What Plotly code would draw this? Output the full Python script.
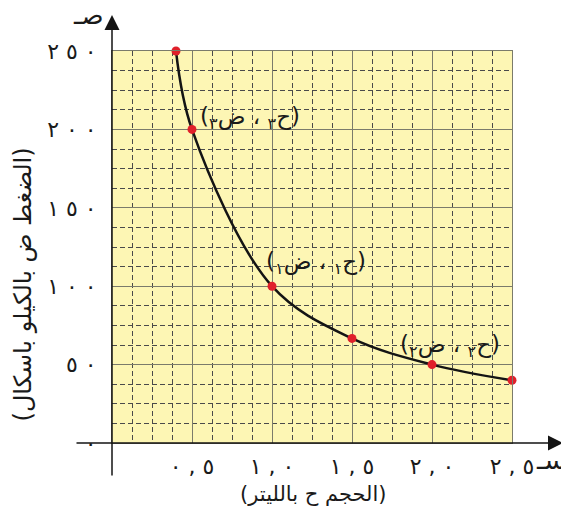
import plotly.graph_objects as go

# Boyle's law data: volume (L) and pressure (kPa)
volume = [0.4, 0.5, 1.0, 1.5, 2.0, 2.5]
pressure = [250, 200, 100, 66.7, 50, 40]

x_tick_vals = [0, 0.5, 1.0, 1.5, 2.0, 2.5]
x_tick_text = ['', '٠,٥', '١,٠', '١,٥', '٢,٠', '٢,٥']
y_tick_vals = [0, 50, 100, 150, 200, 250]
y_tick_text = ['٠', '٥٠', '١٠٠', '١٥٠', '٢٠٠', '٢٥٠']

# labels of the marked points: (subscript, x, y)
point_labels = [
    ('٣', 0.54, 207),
    ('١', 0.95, 115),
    ('٢', 1.79, 62),
]

FONT = 'DejaVu Sans'
YELLOW = '#fdf6b4'
MAJOR = '#7b7b6b'
MINOR = '#4a4a4a'

# the page body has an 8px margin, so the figure is shifted by that much
PAGE = 8


def spaced(s):
    # spread the digits a little, keep them in left-to-right order
    if not s:
        return s
    return '\u202d' + ' '.join(s) + '\u202c'


def pair_label(n):
    # written in visual order (left to right) and forced LTR
    return ('\u202d(<sub>' + n + '</sub>ض ، <sub>' + n + '</sub>ح)\u202c')


fig = go.Figure()

fig.add_trace(go.Scatter(
    x=volume, y=pressure, mode='lines',
    line=dict(color='#141414', width=2.5, shape='spline', smoothing=1.0),
    cliponaxis=False, hoverinfo='skip', showlegend=False
))
fig.add_trace(go.Scatter(
    x=volume, y=pressure, mode='markers',
    marker=dict(color='#e0202a', size=9),
    cliponaxis=False, showlegend=False
))

axis_common = dict(
    showline=True, mirror=True, linecolor=MAJOR, linewidth=1,
    showgrid=True, gridcolor=MAJOR, gridwidth=1.2,
    zeroline=False, ticks='', tickmode='array',
    tickfont=dict(family=FONT, size=22, color='#1a1a1a'),
    fixedrange=True,
)

fig.update_xaxes(
    range=[0, 2.5], tickvals=x_tick_vals,
    ticktext=[spaced(t) for t in x_tick_text],
    ticklabelstandoff=4,
    minor=dict(tickmode='linear', tick0=0, dtick=0.125, showgrid=True,
               gridcolor=MINOR, gridwidth=1, griddash='5px,3px'),
    **axis_common
)
fig.update_yaxes(
    range=[0, 250], tickvals=y_tick_vals,
    ticktext=[spaced(t) for t in y_tick_text],
    ticklabelstandoff=10,
    minor=dict(tickmode='linear', tick0=0, dtick=12.5, showgrid=True,
               gridcolor=MINOR, gridwidth=1, griddash='5px,3px'),
    **axis_common
)

annotations = []
# axis arrows
annotations.append(dict(
    xref='paper', yref='paper', x=1.1275, y=0, ax=-488, ay=0, text='',
    showarrow=True, arrowhead=2, arrowsize=2, arrowwidth=1.5, arrowcolor='#141414'
))
annotations.append(dict(
    xref='paper', yref='paper', x=0, y=1.092, ax=0, ay=462, text='',
    showarrow=True, arrowhead=2, arrowsize=2, arrowwidth=1.5, arrowcolor='#141414'
))
# axis letters
annotations.append(dict(xref='paper', yref='paper', x=1.14, y=-0.088, text='سـ',
                        xanchor='right', showarrow=False,
                        font=dict(family=FONT, size=26, color='#1a1a1a')))
annotations.append(dict(xref='paper', yref='paper', x=-0.015, y=1.135, text='صـ',
                        xanchor='right', yanchor='top', showarrow=False,
                        font=dict(family=FONT, size=26, color='#1a1a1a')))
# axis titles
annotations.append(dict(xref='paper', yref='paper', x=0.5025, y=-0.168,
                        text='(الحجم ح بالليتر)', showarrow=False,
                        font=dict(family=FONT, size=21, color='#1a1a1a')))
annotations.append(dict(xref='paper', yref='paper', x=-0.262, y=0.405, textangle=-90,
                        text='(الضغط ض بالكيلو باسكال)', showarrow=False,
                        font=dict(family=FONT, size=24, color='#1a1a1a')))
# point labels
for n, lx, ly in point_labels:
    annotations.append(dict(xref='x', yref='y', x=lx, y=ly, text=pair_label(n),
                            xanchor='left', yanchor='middle', showarrow=False,
                            font=dict(family=FONT, size=23, color='#1a1a1a')))

fig.update_layout(
    width=569 - PAGE, height=530 - PAGE,
    margin=dict(l=112 - PAGE, r=57, t=51 - PAGE, b=87),
    plot_bgcolor=YELLOW, paper_bgcolor='white',
    annotations=annotations,
    showlegend=False,
)

fig.write_html("out.html")
